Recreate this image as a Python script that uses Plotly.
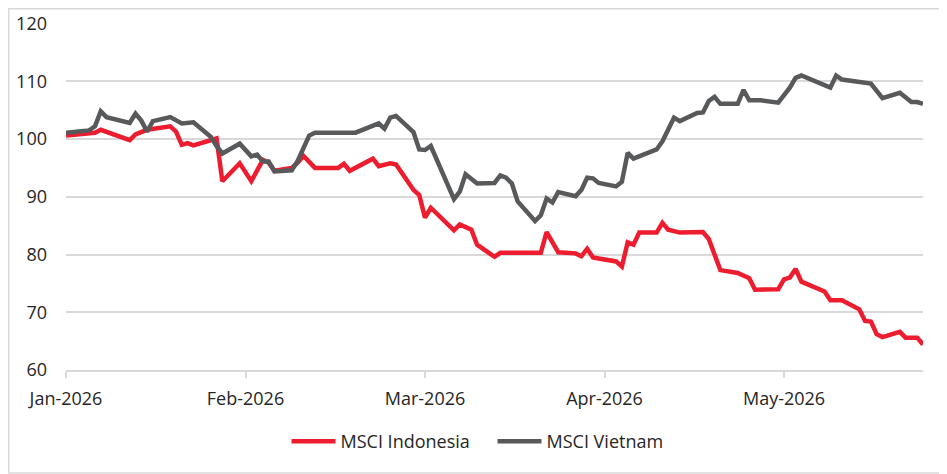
import plotly.graph_objects as go

# day offsets from 1 Jan 2026 (chart uses a category-style axis, one slot per day)
month_ticks = [0, 31, 62, 93, 124]
month_labels = ["Jan-2026", "Feb-2026", "Mar-2026", "Apr-2026", "May-2026"]

vn_days = [0, 4, 5, 6, 7, 9, 11, 12, 13, 14, 15, 18, 20, 22, 25, 26, 27, 30, 32, 33,
           34, 35, 36, 39, 40, 42, 43, 50, 54, 55, 56, 57, 60, 61, 62, 63, 67, 68, 69, 71,
           74, 75, 76, 77, 78, 81, 82, 83, 84, 85, 88, 89, 90, 91, 92, 95, 96, 97, 98, 102,
           103, 105, 106, 109, 110, 111, 112, 113, 116, 117, 118, 120, 123, 125, 126, 127, 130, 131, 132, 133,
           134, 139, 141, 144, 146, 147, 148]
vn_vals = [101.1, 101.5, 102.2, 104.8, 103.8, 103.3, 102.8, 104.4, 103.2, 101.3, 103.1, 103.8, 102.7, 102.9, 100.4, 98.8, 97.5, 99.2, 97.0, 97.3,
           96.1, 96.1, 94.4, 94.6, 96.2, 100.6, 101.1, 101.1, 102.7, 101.8, 103.7, 104.0, 101.2, 98.2, 98.1, 98.8, 89.6, 90.9, 93.9, 92.3,
           92.4, 93.7, 93.3, 92.3, 89.2, 85.8, 86.8, 89.7, 89.0, 90.8, 90.1, 91.2, 93.3, 93.2, 92.4, 91.8, 92.6, 97.6, 96.6, 98.2,
           99.6, 103.7, 103.1, 104.5, 104.6, 106.6, 107.3, 106.1, 106.1, 108.5, 106.7, 106.7, 106.3, 108.9, 110.6, 111.0, 109.8, 109.4, 108.9, 111.0,
           110.3, 109.6, 107.1, 108.0, 106.4, 106.4, 106.1]

id_days = [0, 5, 6, 8, 11, 12, 14, 18, 19, 20, 21, 22, 26, 27, 30, 32, 34, 35, 36, 39,
           40, 41, 43, 47, 48, 49, 53, 54, 56, 57, 60, 61, 62, 63, 67, 68, 70, 71, 74, 75,
           82, 83, 85, 88, 89, 90, 91, 92, 95, 96, 97, 98, 99, 102, 103, 104, 106, 110, 111, 113,
           116, 118, 119, 123, 124, 125, 126, 127, 131, 132, 134, 137, 138, 139, 140, 141, 144, 145, 147, 148]
id_vals = [100.6, 101.1, 101.6, 100.8, 99.8, 100.8, 101.6, 102.2, 101.3, 99.0, 99.3, 98.9, 100.1, 92.7, 95.8, 92.7, 96.4, 95.9, 94.5, 95.0,
           95.9, 97.1, 95.0, 95.0, 95.7, 94.5, 96.6, 95.3, 95.8, 95.6, 91.2, 90.3, 86.4, 88.1, 84.2, 85.2, 84.3, 81.7, 79.6, 80.3,
           80.3, 83.9, 80.4, 80.2, 79.7, 81.0, 79.5, 79.3, 78.8, 77.9, 82.1, 81.7, 83.8, 83.8, 85.5, 84.3, 83.8, 83.9, 82.7, 77.3,
           76.8, 75.9, 73.9, 74.0, 75.7, 76.0, 77.5, 75.3, 73.6, 72.1, 72.1, 70.5, 68.5, 68.4, 66.2, 65.7, 66.6, 65.6, 65.6, 64.4]

RED = "#ED1C2E"
GREY = "#58595B"
GRID = "#D9D9D9"
TXT = "#262626"

fig = go.Figure()
fig.add_trace(go.Scatter(x=id_days, y=id_vals, mode="lines", name="MSCI Indonesia",
                         line=dict(color=RED, width=4.5)))
fig.add_trace(go.Scatter(x=vn_days, y=vn_vals, mode="lines", name="MSCI Vietnam",
                         line=dict(color=GREY, width=4.5)))

# the page body adds 8px, so the figure is 8px smaller than the window
FW, FH = 939, 466
L, R, T, B = 58, 24, 15, 104
W, H = FW - L - R, FH - T - B

# thin frame round the picture
fig.add_shape(type="rect", xref="paper", yref="paper",
              x0=(0.75 - L) / W, x1=(FW - 1 - L) / W,
              y0=(FH - B - (FH - 1)) / H, y1=(FH - B - 0.75) / H,
              line=dict(color=GRID, width=1.5), layer="below")

fig.update_layout(
    width=FW, height=FH,
    margin=dict(l=L, r=R, t=T, b=B),
    paper_bgcolor="white", plot_bgcolor="white",
    font=dict(family="Open Sans", size=18, color=TXT),
    showlegend=True,
    legend=dict(orientation="h", x=(278.5 - L) / W, xanchor="left", y=(FH - B - 433.5) / H, yanchor="middle",
                font=dict(size=18, color=TXT), itemwidth=44, entrywidth=147, entrywidthmode="pixels"),
)
fig.update_xaxes(range=[0, 148], tickmode="array", tickvals=month_ticks, ticktext=month_labels,
                 showgrid=False, zeroline=False, showline=True, linecolor=GRID, linewidth=1.5,
                 ticks="outside", ticklen=6, tickcolor=GRID, tickwidth=1.5, ticklabelstandoff=6,
                 automargin=False)
fig.update_yaxes(range=[60, 120.1], tickvals=[60, 70, 80, 90, 100, 110, 120], showgrid=True,
                 gridcolor=GRID, gridwidth=1.5, zeroline=False, showline=False, ticks="",
                 ticklabelstandoff=18, automargin=False)

fig.write_html("out.html")
